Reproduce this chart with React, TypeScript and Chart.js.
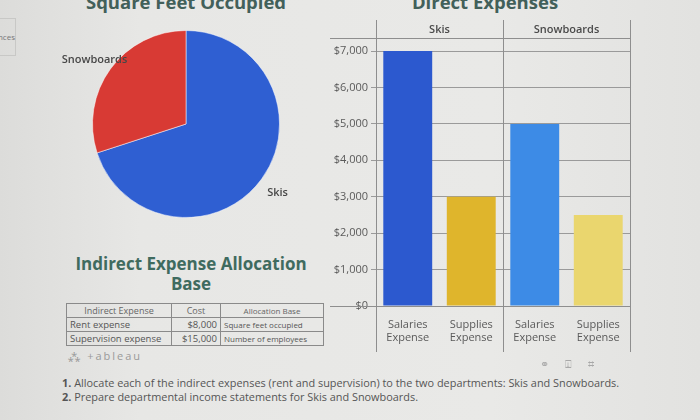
import React, { useEffect, useRef } from "react";
import { Chart, registerables } from "chart.js";
Chart.register(...registerables);

// ---- data ----
const pieLabels = ["Skis", "Snowboards"];
const pieValues = [70, 30];
const pieColors = ["#2f5fd2", "#d83a34"];

const barCategories = [
  ["Salaries", "Expense"],
  ["Supplies", "Expense"],
  ["Salaries", "Expense"],
  ["Supplies", "Expense"],
];
const facetLabels = ["Skis", "Snowboards"];
const barValues = [7000, 3000, 5000, 2500];
const barColors = ["#2c59cf", "#dfb52c", "#3d8be6", "#ead66e"];
const yMax = 7360;
const yStep = 1000;

const tableHeader = ["Indirect Expense", "Cost", "Allocation Base"];
const tableRows = [
  ["Rent expense", "$8,000", "Square feet occupied"],
  ["Supervision expense", "$15,000", "Number of employees"],
];

const FONT = "'Open Sans', 'Noto Sans', sans-serif";

const pieLabelPlugin = {
  id: "pieLabels",
  afterDraw(chart: any) {
    const ctx = chart.ctx;
    const meta = chart.getDatasetMeta(0);
    ctx.save();
    ctx.font = `600 11px ${FONT}`;
    ctx.fillStyle = "#474747";
    ctx.textAlign = "center";
    ctx.textBaseline = "middle";
    meta.data.forEach((arc: any, i: number) => {
      const p = arc.getProps(["x", "y", "startAngle", "endAngle", "outerRadius"], true);
      const mid = (p.startAngle + p.endAngle) / 2;
      const r = p.outerRadius * 1.21;
      ctx.fillText(chart.data.labels[i], p.x + Math.cos(mid) * r, p.y + Math.sin(mid) * r + 2);
    });
    ctx.restore();
  },
};

const facetPlugin = {
  id: "facets",
  afterDraw(chart: any) {
    const ctx = chart.ctx;
    const { left, right, top, bottom } = chart.chartArea;
    const x = chart.scales.x;
    const divider = (x.getPixelForValue(1) + x.getPixelForValue(2)) / 2;
    const h = chart.height;
    ctx.save();
    ctx.strokeStyle = "#8e8e8e";
    ctx.lineWidth = 1;
    ctx.beginPath();
    [left, divider, right].forEach((px) => {
      const xx = Math.round(px) + 0.5;
      ctx.moveTo(xx, 5);
      ctx.lineTo(xx, h);
    });
    ctx.moveTo(0, Math.round(top) + 0.5);
    ctx.lineTo(right, Math.round(top) + 0.5);
    ctx.moveTo(0, Math.round(bottom) + 0.5);
    ctx.lineTo(right, Math.round(bottom) + 0.5);
    ctx.stroke();
    ctx.font = `600 11px ${FONT}`;
    ctx.fillStyle = "#4a4a4a";
    ctx.textAlign = "center";
    ctx.textBaseline = "middle";
    ctx.fillText(facetLabels[0], (left + divider) / 2, top - 8);
    ctx.fillText(facetLabels[1], (divider + right) / 2, top - 8);
    ctx.restore();
  },
};

function PieChart() {
  const ref = useRef<HTMLCanvasElement>(null);
  useEffect(() => {
    const chart = new Chart(ref.current!, {
      type: "pie",
      data: {
        labels: pieLabels,
        datasets: [
          {
            data: pieValues,
            backgroundColor: pieColors,
            borderColor: "rgba(255,255,255,0.5)",
            borderWidth: 1,
          },
        ],
      },
      options: {
        responsive: false,
        animation: false,
        layout: { padding: { left: 52, top: 20, right: 60, bottom: 22 } },
        plugins: { legend: { display: false }, tooltip: { enabled: false } },
      },
      plugins: [pieLabelPlugin],
    });
    return () => chart.destroy();
  }, []);
  return (
    <canvas
      ref={ref}
      width={300}
      height={230}
      style={{ position: "absolute", left: 40, top: 10, width: 300, height: 230 }}
    />
  );
}

function BarChart() {
  const ref = useRef<HTMLCanvasElement>(null);
  useEffect(() => {
    const chart = new Chart(ref.current!, {
      type: "bar",
      data: {
        labels: barCategories,
        datasets: [
          {
            data: barValues,
            backgroundColor: barColors,
            categoryPercentage: 1,
            barPercentage: 0.77,
          },
        ],
      },
      options: {
        responsive: false,
        animation: false,
        layout: { padding: { left: 0, top: 23, right: 20, bottom: 0 } },
        plugins: { legend: { display: false }, tooltip: { enabled: false } },
        scales: {
          x: {
            grid: { display: false },
            border: { display: false },
            ticks: {
              color: "#5a5a5a",
              font: { family: FONT, size: 11 },
              padding: 4,
              maxRotation: 0,
              autoSkip: false,
            },
            afterFit: (s: any) => {
              s.height = 46;
            },
          },
          y: {
            min: 0,
            max: yMax,
            border: { display: false },
            grid: { color: "#9a9a9a", lineWidth: 1, tickLength: 5 },
            ticks: {
              color: "#5a5a5a",
              font: { family: FONT, size: 11 },
              padding: 3,
              callback: (v: any) => "$" + Number(v).toLocaleString("en-US"),
            },
            afterBuildTicks: (s: any) => {
              const t: any[] = [];
              for (let v = 0; v <= yMax; v += yStep) t.push({ value: v });
              s.ticks = t;
            },
            afterFit: (s: any) => {
              s.width = 46;
            },
          },
        },
      },
      plugins: [facetPlugin],
    });
    return () => chart.destroy();
  }, []);
  return (
    <canvas
      ref={ref}
      width={320}
      height={337}
      style={{ position: "absolute", left: 330, top: 15, width: 320, height: 337 }}
    />
  );
}

export default function App() {
  const cell: React.CSSProperties = {
    border: "1px solid #8a8a8a",
    padding: "0 3px",
    height: 13,
    whiteSpace: "nowrap",
  };
  const titleStyle: React.CSSProperties = {
    position: "absolute",
    top: -9,
    textAlign: "center",
    fontSize: 18.5,
    fontWeight: 700,
    color: "#42605a",
    lineHeight: "22px",
  };
  return (
    <div
      style={{
        position: "fixed",
        left: 0,
        top: 0,
        width: 700,
        height: 420,
        overflow: "hidden",
        background: "linear-gradient(90deg, #dcdcda 0%, #e7e7e5 20%, #e9e9e7 70%, #e2e2e0 100%)",
        fontFamily: FONT,
      }}
    >
      {/* left edge fragment */}
      <div
        style={{
          position: "absolute",
          left: -6,
          top: 18,
          width: 20,
          height: 36,
          border: "1px solid #c8c8c6",
          fontSize: 8,
          color: "#777",
          lineHeight: "36px",
          textAlign: "right",
        }}
      >
        nces
      </div>

      <div style={{ ...titleStyle, left: 40, width: 292 }}>Square Feet Occupied</div>
      <div style={{ ...titleStyle, left: 380, width: 210 }}>Direct Expenses</div>

      <PieChart />
      <BarChart />

      <div
        style={{
          position: "absolute",
          left: 60,
          width: 262,
          top: 254,
          textAlign: "center",
          fontSize: 17,
          fontWeight: 700,
          color: "#3f6b5f",
          lineHeight: "20px",
        }}
      >
        Indirect Expense Allocation
        <br />
        Base
      </div>

      <table
        style={{
          position: "absolute",
          left: 66,
          top: 303,
          borderCollapse: "collapse",
          fontSize: 9.5,
          color: "#555",
          lineHeight: "12px",
        }}
      >
        <thead>
          <tr>
            <th style={{ ...cell, width: 98, fontWeight: 400, color: "#666", fontSize: 9 }}>{tableHeader[0]}</th>
            <th style={{ ...cell, width: 42, fontWeight: 400, color: "#666", fontSize: 9 }}>{tableHeader[1]}</th>
            <th style={{ ...cell, width: 96, fontWeight: 400, color: "#666", fontSize: 8 }}>{tableHeader[2]}</th>
          </tr>
        </thead>
        <tbody>
          {tableRows.map((r, i) => (
            <tr key={i}>
              <td style={{ ...cell }}>{r[0]}</td>
              <td style={{ ...cell, textAlign: "right" }}>{r[1]}</td>
              <td style={{ ...cell, fontSize: 8 }}>{r[2]}</td>
            </tr>
          ))}
        </tbody>
      </table>

      <div
        style={{
          position: "absolute",
          left: 68,
          top: 348,
          fontSize: 11,
          color: "#9a9a9a",
          letterSpacing: 2,
        }}
      >
        ⁂ +ableau
      </div>

      <div
        style={{
          position: "absolute",
          left: 540,
          top: 356,
          fontSize: 11,
          color: "#a8a8a8",
          letterSpacing: 16,
        }}
      >
        ⚭⍗⌗
      </div>

      <div
        style={{
          position: "absolute",
          left: 62,
          top: 376,
          fontSize: 10.9,
          color: "#555",
          lineHeight: "14px",
          whiteSpace: "nowrap",
        }}
      >
        <b>1.</b> Allocate each of the indirect expenses (rent and supervision) to the two departments: Skis and Snowboards.
        <br />
        <b>2.</b> Prepare departmental income statements for Skis and Snowboards.
      </div>
    </div>
  );
}
